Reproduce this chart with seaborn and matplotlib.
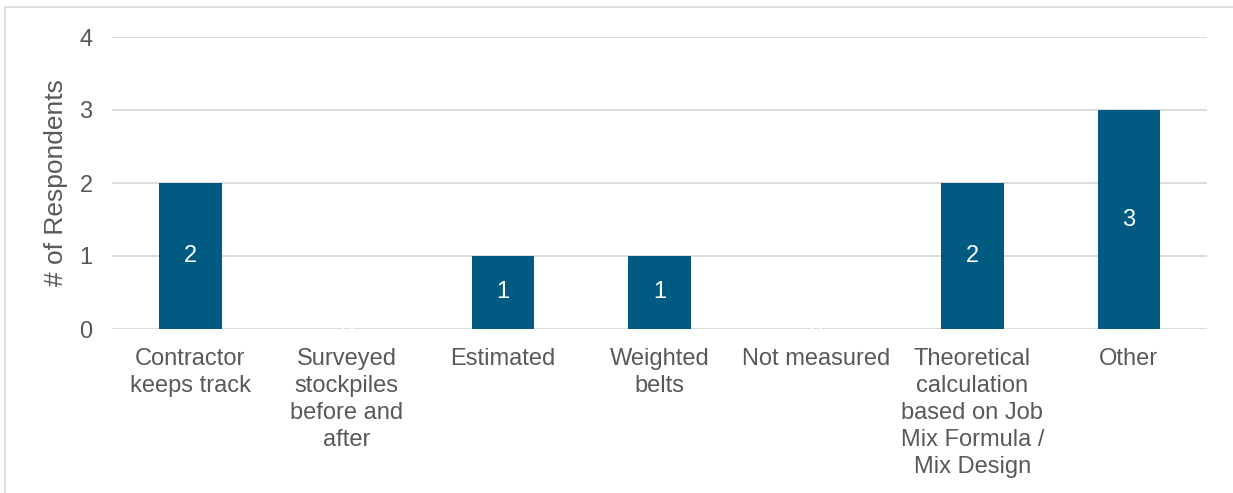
import matplotlib
matplotlib.use("Agg")
import matplotlib.pyplot as plt
import seaborn as sns
import pandas as pd
from matplotlib.patches import Rectangle

categories = [
    "Contractor\nkeeps track",
    "Surveyed\nstockpiles\nbefore and\nafter",
    "Estimated",
    "Weighted\nbelts",
    "Not measured",
    "Theoretical\ncalculation\nbased on Job\nMix Formula /\nMix Design",
    "Other",
]
values = [2, 0, 1, 1, 0, 2, 3]
y_ticks = [0, 1, 2, 3, 4]
y_label = "# of Respondents"

bar_color = "#005A82"
text_color = "#595959"
grid_color = "#D9D9D9"

sns.set_theme(style="white")
plt.rcParams["font.family"] = ["Liberation Sans", "DejaVu Sans"]

df = pd.DataFrame({"category": categories, "value": values})

fig = plt.figure(figsize=(12.33, 4.93), dpi=100)
ax = fig.add_axes([112 / 1233, 1 - 329 / 493, 1095 / 1233, 292 / 493])

sns.barplot(data=df, x="category", y="value", color=bar_color, width=0.4,
            saturation=1, ax=ax, zorder=3, linewidth=0)

ax.set_ylim(0, 4)
ax.set_xlim(-0.5, len(categories) - 0.5)
ax.set_yticks(y_ticks)
ax.yaxis.grid(True, color=grid_color, linewidth=1.3, zorder=0)
ax.set_axisbelow(True)
for s in ax.spines.values():
    s.set_visible(False)
ax.tick_params(axis="both", length=0, colors=text_color, labelsize=17)
ax.tick_params(axis="y", pad=14)
ax.tick_params(axis="x", pad=13.5)
for lbl in ax.get_xticklabels():
    lbl.set_linespacing(1.3)
ax.set_xlabel("")
ax.set_ylabel(y_label, color=text_color, fontsize=19, labelpad=8)

for i, v in enumerate(values):
    ax.text(i, v / 2, str(v), ha="center", va="center", color="white",
            fontsize=17, zorder=4)

fig.patches.append(Rectangle((5 / 1233, -0.1), 1.2, 1 - 7 / 493 + 0.1,
                             transform=fig.transFigure, fill=False,
                             edgecolor="#D9D9D9", linewidth=1.2))

fig.savefig("out.png", dpi=100)
